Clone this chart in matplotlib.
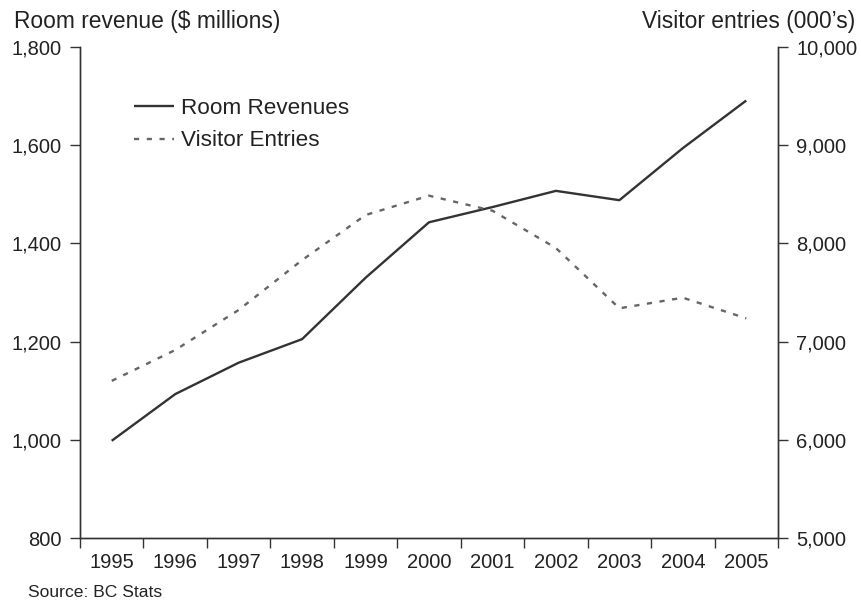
import matplotlib
matplotlib.use("Agg")
import matplotlib.pyplot as plt
from matplotlib.ticker import FuncFormatter, FixedLocator

plt.rcParams['font.family'] = ['Liberation Sans', 'DejaVu Sans']

years = ['1995', '1996', '1997', '1998', '1999', '2000', '2001', '2002', '2003', '2004', '2005']
room_revenue = [998, 1093, 1157, 1205, 1330, 1443, 1474, 1507, 1488, 1594, 1691]
visitor_entries = [6600, 6914, 7322, 7830, 8289, 8486, 8333, 7953, 7339, 7447, 7237]

fig = plt.figure(figsize=(8.61, 6.02), dpi=100)
ax = fig.add_axes([80/861, 64/602, 698/861, 491/602])
ax2 = ax.twinx()

x = list(range(len(years)))
l1, = ax.plot(x, room_revenue, color='#333333', lw=1.7, label='Room Revenues', solid_capstyle='butt')
l2, = ax2.plot(x, visitor_entries, color='#666666', lw=1.7, linestyle=(0, (2.2, 3.2)),
               label='Visitor Entries', dash_capstyle='butt')

ax.set_xlim(-0.5, len(years) - 0.5)
ax.set_ylim(800, 1800)
ax2.set_ylim(5000, 10000)
ax.set_yticks([800, 1000, 1200, 1400, 1600, 1800])
ax2.set_yticks([5000, 6000, 7000, 8000, 9000, 10000])
fmt = FuncFormatter(lambda v, p: f"{int(v):,}")
ax.yaxis.set_major_formatter(fmt)
ax2.yaxis.set_major_formatter(fmt)

ax.set_xticks(x)
ax.set_xticklabels(years)
ax.xaxis.set_minor_locator(FixedLocator([i - 0.5 for i in range(len(years) + 1)]))
ax.tick_params(axis='x', which='major', length=0, pad=11, labelsize=14.5, colors='#222222')
ax.tick_params(axis='x', which='minor', length=7, width=1, color='#333333', direction='out')
ax.tick_params(axis='y', length=7, width=1, color='#333333', pad=6, labelsize=14.5, labelcolor='#222222')
ax2.tick_params(axis='y', length=7, width=1, color='#333333', pad=6, labelsize=14.5, labelcolor='#222222')

for a in (ax, ax2):
    a.spines['top'].set_visible(False)
    for s in ('left', 'right', 'bottom'):
        a.spines[s].set_color('#333333')
        a.spines[s].set_linewidth(1)

fig.text(14/861, 1 - 28/602, 'Room revenue ($ millions)', fontsize=16.4, color='#222222',
         ha='left', va='baseline')
fig.text(855/861, 1 - 28/602, "Visitor entries (000\u2019s)", fontsize=16.4, color='#222222',
         ha='right', va='baseline')
fig.text(28/861, 1 - 597/602, 'Source: BC Stats', fontsize=12.6, color='#222222',
         ha='left', va='baseline')

leg = ax.legend(handles=[l1, l2], loc='upper left', bbox_to_anchor=(0.064, 0.914), frameon=False,
                fontsize=16.2, handlelength=1.8, handletextpad=0.3, labelspacing=0.5,
                borderaxespad=0)
for t in leg.get_texts():
    t.set_color('#222222')

fig.savefig('out.png', dpi=100)
